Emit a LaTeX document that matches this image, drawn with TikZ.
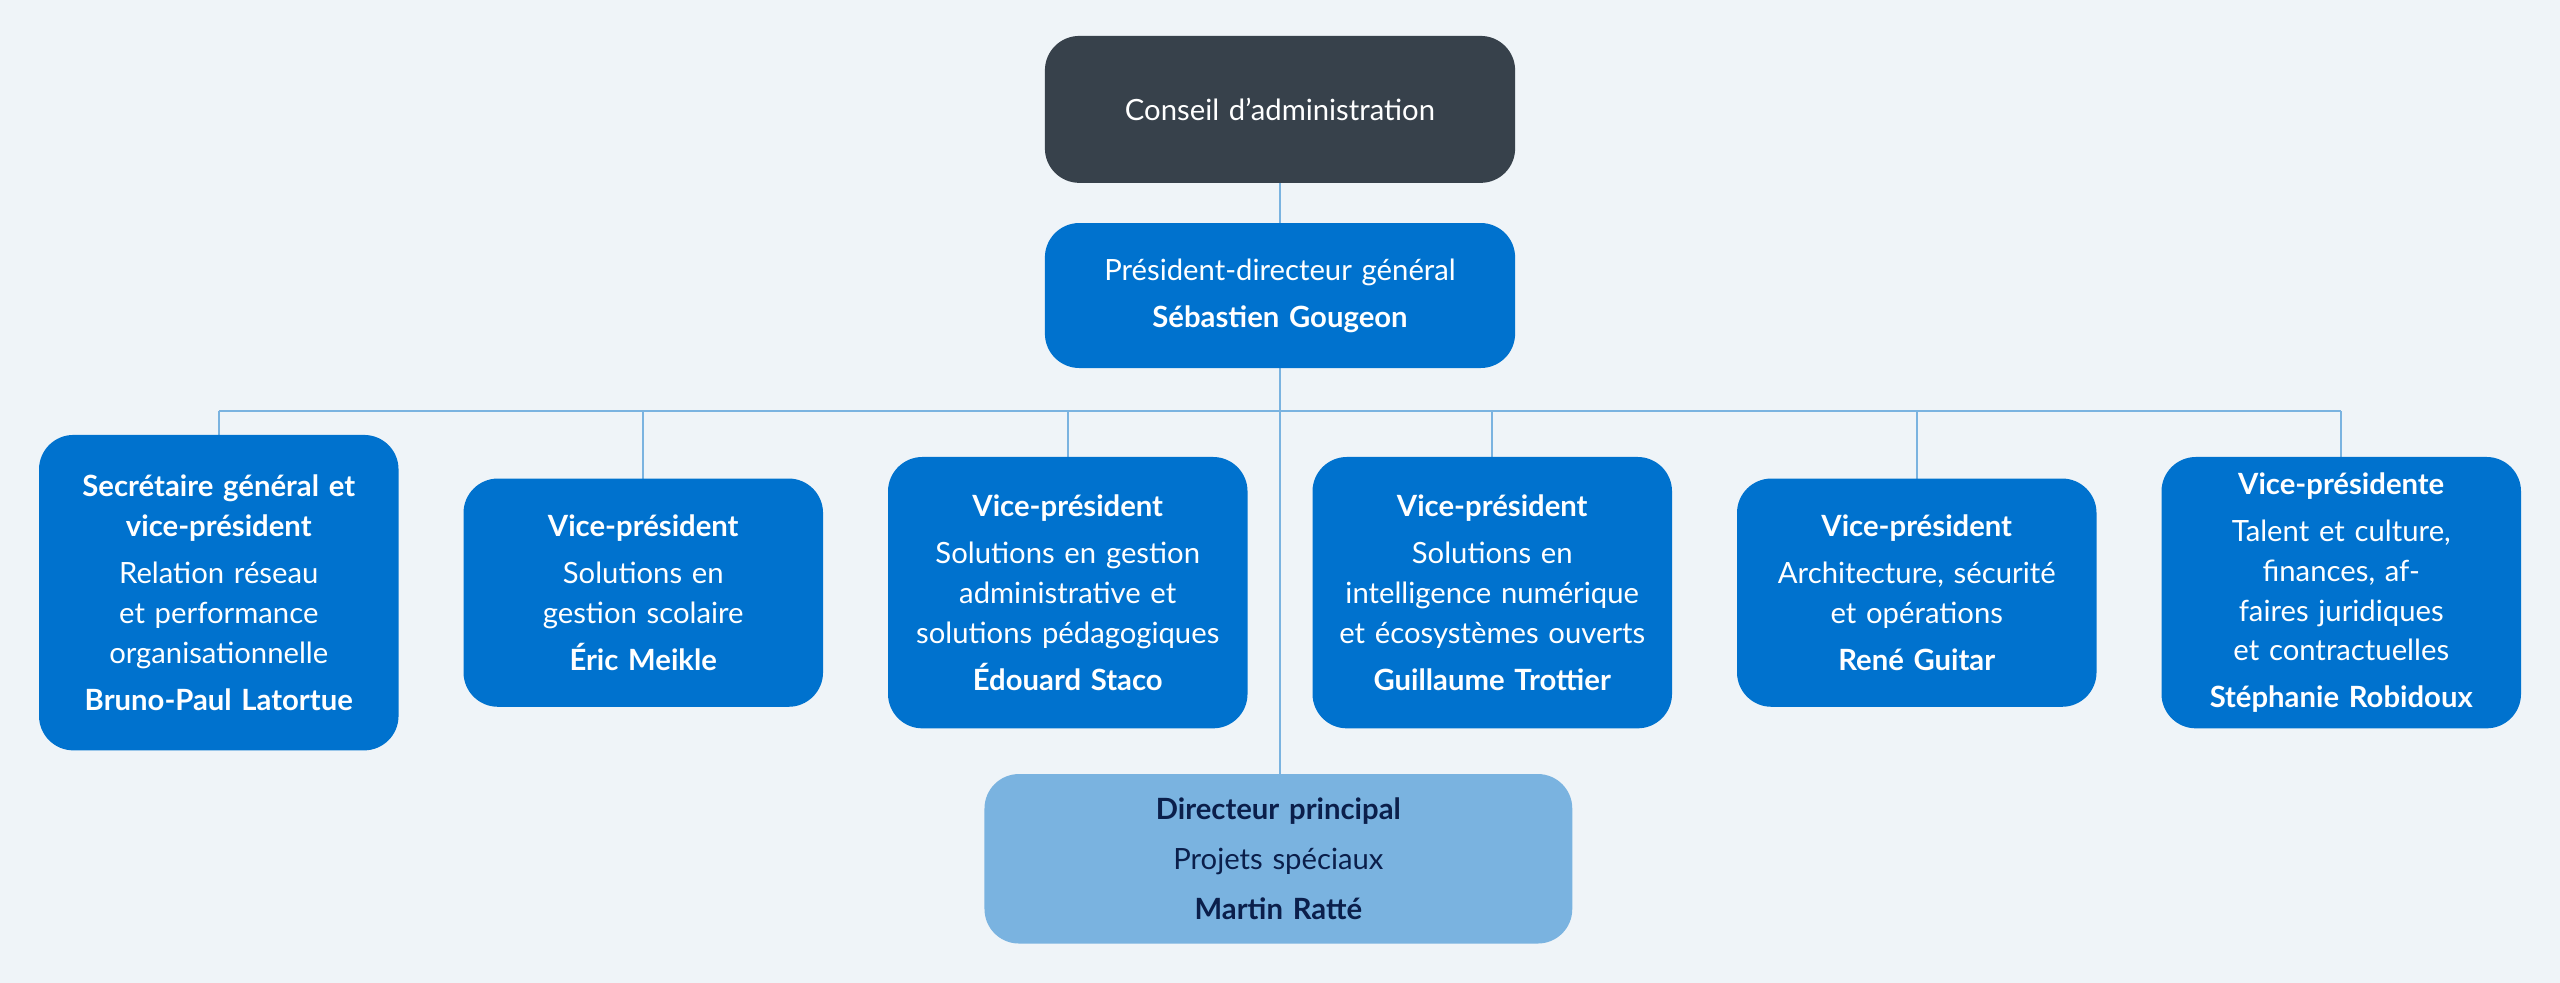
\documentclass[tikz,border=0pt]{standalone}
\usepackage{fontspec}
\setmainfont{Lato}
\definecolor{bgc}{HTML}{EFF4F8}
\definecolor{darkbox}{HTML}{37414B}
\definecolor{bluebox}{HTML}{0072CE}
\definecolor{lightbox}{HTML}{7AB3E0}
\definecolor{navy}{HTML}{0B1F4B}
\definecolor{linec}{HTML}{7AB3E0}
\tikzset{
  box/.style={rounded corners=10pt, align=center, inner sep=0pt,
    minimum width=3.67cm, text width=3.5cm, font=\fontsize{8.5}{11.6}\selectfont},
  vp/.style={box, fill=bluebox, text=white},
  link/.style={draw=linec, line width=0.6pt}
}
\begin{document}
\begin{tikzpicture}[x=1cm/60, y=-1cm/60]
\fill[bgc] (0,0) rectangle (1568,602);
\useasboundingbox (0,0) rectangle (1568,602);
%LINKS
\coordinate (bar) at (784,252);
\draw[link] (134,252) -- (1434,252);
\foreach \x in {134,394,654,914,1174,1434}
  \draw[link] (\x,252) -- (\x,300);
\draw[link] (784,67) -- (784,526);
%TOP
\node[box, fill=darkbox, text=white, minimum width=4.8cm, text width=4.6cm, minimum height=1.5cm] (ca) at (784,67) {Conseil d’administration};
\node[vp, minimum width=4.8cm, text width=4.6cm, minimum height=1.48cm] (pdg) at (784,181) {Président-directeur général\\[2pt]\textbf{Sébastien Gougeon}};
%ROW
\node[vp, minimum height=3.22cm] (sg) at (134,363) {\textbf{Secrétaire général et\\vice-président}\\[2pt]Relation réseau\\et performance\\organisationnelle\\[2pt]\textbf{Bruno-Paul Latortue}};
\node[vp, minimum height=2.33cm] (vpa) at (394,363) {\textbf{Vice-président}\\[2pt]Solutions en\\gestion scolaire\\[2pt]\textbf{Éric Meikle}};
\node[vp, minimum height=2.77cm] (vpb) at (654,363) {\textbf{Vice-président}\\[2pt]Solutions en gestion\\administrative et\\solutions pédagogiques\\[2pt]\textbf{Édouard Staco}};
\node[vp, minimum height=2.77cm] (vpc) at (914,363) {\textbf{Vice-président}\\[2pt]Solutions en\\intelligence numérique\\et écosystèmes ouverts\\[2pt]\textbf{Guillaume Trottier}};
\node[vp, minimum height=2.33cm] (vpd) at (1174,363) {\textbf{Vice-président}\\[2pt]Architecture, sécurité\\et opérations\\[2pt]\textbf{René Guitar}};
\node[vp, minimum height=2.77cm] (vpe) at (1434,363) {\textbf{Vice-présidente}\\[2pt]Talent et culture,\\finances, affaires juridiques\\et contractuelles\\[2pt]\textbf{Stéphanie Robidoux}};
%BOTTOM
\node[box, fill=lightbox, text=navy, minimum width=6cm, text width=5.8cm, minimum height=1.73cm] (dp) at (783,526) {\textbf{Directeur principal}\\[3pt]Projets spéciaux\\[3pt]\textbf{Martin Ratté}};
\end{tikzpicture}
\end{document}
